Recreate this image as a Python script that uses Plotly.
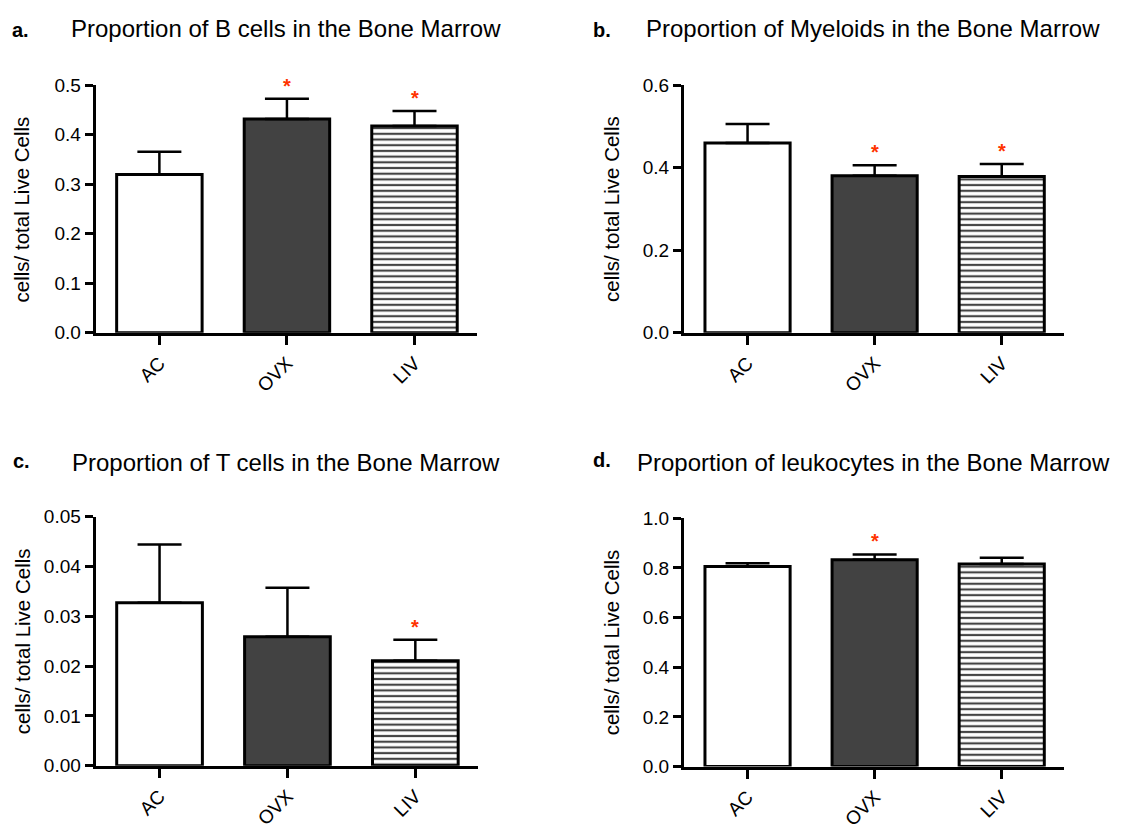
import plotly.graph_objects as go

W, H = 1122, 830

groups = ["AC", "OVX", "LIV"]

# Mean proportion and SEM for each panel
bcell_mean = [0.320, 0.432, 0.418]
bcell_sem = [0.046, 0.041, 0.030]
bcell_sig = [False, True, True]

myeloid_mean = [0.460, 0.381, 0.379]
myeloid_sem = [0.046, 0.025, 0.030]
myeloid_sig = [False, True, True]

tcell_mean = [0.0327, 0.0259, 0.0211]
tcell_sem = [0.0117, 0.0098, 0.0042]
tcell_sig = [False, False, True]

leuko_mean = [0.806, 0.833, 0.816]
leuko_sem = [0.013, 0.021, 0.025]
leuko_sig = [False, True, False]

panels = [
    dict(letter="a.", title="Proportion of B cells in the Bone Marrow",
         mean=bcell_mean, sem=bcell_sem, sig=bcell_sig,
         ymax=0.5, dtick=0.1, fmt=".1f"),
    dict(letter="b.", title="Proportion of Myeloids in the Bone Marrow",
         mean=myeloid_mean, sem=myeloid_sem, sig=myeloid_sig,
         ymax=0.6, dtick=0.2, fmt=".1f"),
    dict(letter="c.", title="Proportion of T cells in the Bone Marrow",
         mean=tcell_mean, sem=tcell_sem, sig=tcell_sig,
         ymax=0.05, dtick=0.01, fmt=".2f"),
    dict(letter="d.", title="Proportion of leukocytes in the Bone Marrow",
         mean=leuko_mean, sem=leuko_sem, sig=leuko_sig,
         ymax=1.0, dtick=0.2, fmt=".1f"),
]

# Plot-area boxes in pixels: (left, right, top, bottom)
boxes = [
    (95.6, 477, 77.7, 332.7),
    (684, 1064, 77.7, 332.7),
    (95.6, 478, 522.3, 779.3),
    (684, 1064, 524, 780),
]
# Title / letter / y-label anchor points in pixels
title_pos = [(68.8, 18.8), (644, 18.8), (69.5, 466.8), (634.8, 466.8)]
letter_pos = [(10, 20.7), (591, 20.7), (10.7, 465), (591, 464)]
ylabel_x = [21.4, 611, 22, 611]

FONT = "Liberation Sans, Arial, Helvetica, sans-serif"
fill_colors = ["white", "#424242", "white"]

fig = go.Figure()
annotations = []
layout = {}

xs = [0, 1, 2]

for i, p in enumerate(panels):
    n = "" if i == 0 else str(i + 1)
    xa, ya = "x" + n, "y" + n
    left, right, top, bottom = boxes[i]

    fig.add_trace(go.Bar(
        x=xs, y=p["mean"], width=0.67,
        marker=dict(color=fill_colors, line=dict(color="black", width=3),
                    pattern=dict(shape=["", "", "-"], size=5.7, solidity=0.38,
                                 fgcolor="#333333", bgcolor="white",
                                 fgopacity=1, fillmode="overlay")),
        error_y=dict(type="data", symmetric=False, array=p["sem"],
                     arrayminus=[0, 0, 0], color="black", thickness=2.5, width=22),
        xaxis=xa, yaxis=ya, showlegend=False, hoverinfo="skip",
    ))

    layout["xaxis" + n] = dict(
        domain=[left / W, right / W], range=[-0.5, 2.49], anchor=ya,
        tickvals=xs, ticktext=groups, tickangle=-45,
        showline=True, linecolor="black", linewidth=3,
        ticks="outside", ticklen=9, tickwidth=3, tickcolor="black",
        showgrid=False, zeroline=False,
        tickfont=dict(family=FONT, size=19, color="black"), fixedrange=True,
    )
    layout["yaxis" + n] = dict(
        domain=[1 - bottom / H, 1 - top / H], range=[0, p["ymax"]], anchor=xa,
        dtick=p["dtick"], tick0=0, tickformat=p["fmt"],
        showline=True, linecolor="black", linewidth=3,
        ticks="outside", ticklen=8, tickwidth=3, tickcolor="black",
        showgrid=False, zeroline=False,
        tickfont=dict(family=FONT, size=19, color="black"), fixedrange=True,
    )

    # significance markers above the error bars
    for j in range(3):
        if p["sig"][j]:
            annotations.append(dict(
                x=xs[j], y=p["mean"][j] + p["sem"][j], xref=xa, yref=ya,
                text="<b>*</b>", showarrow=False, yanchor="middle", yshift=13,
                font=dict(family=FONT, size=20, color="#ff3300"),
            ))

    tx, ty = title_pos[i]
    annotations.append(dict(
        x=tx / W, y=1 - ty / H, xref="paper", yref="paper",
        xanchor="left", yanchor="middle", text=p["title"], showarrow=False,
        font=dict(family=FONT, size=24, color="black"),
    ))
    lx, ly = letter_pos[i]
    annotations.append(dict(
        x=lx / W, y=1 - ly / H, xref="paper", yref="paper",
        xanchor="left", yanchor="middle", text="<b>" + p["letter"] + "</b>",
        showarrow=False, font=dict(family=FONT, size=20, color="black"),
    ))
    annotations.append(dict(
        x=ylabel_x[i] / W, y=1 - (top + bottom) / 2 / H, xref="paper", yref="paper",
        xanchor="center", yanchor="middle", text="cells/ total Live Cells",
        textangle=-90, showarrow=False,
        font=dict(family=FONT, size=20.5, color="black"),
    ))

fig.update_layout(
    width=W, height=H, margin=dict(l=0, r=0, t=0, b=0),
    paper_bgcolor="white", plot_bgcolor="white",
    annotations=annotations, **layout,
)

fig.write_html("out.html", config={"displayModeBar": False})
